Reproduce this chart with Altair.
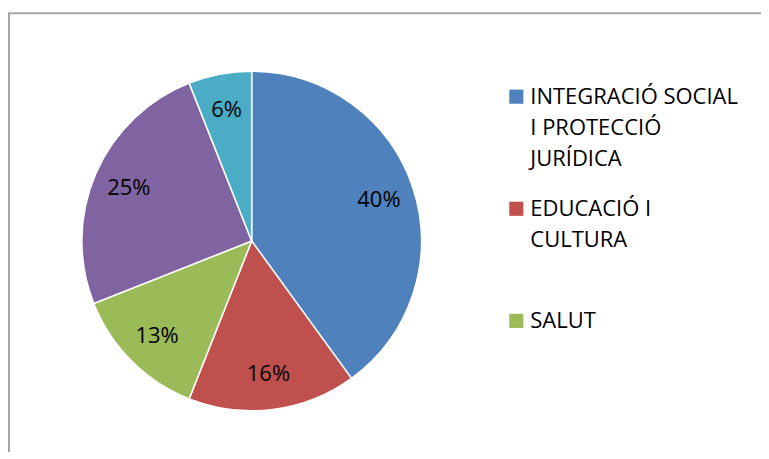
import altair as alt
import pandas as pd

categories = ["INTEGRACIÓ SOCIAL I PROTECCIÓ JURÍDICA", "EDUCACIÓ I CULTURA", "SALUT", "Cat 4", "Cat 5"]
values = [40, 16, 13, 25, 6]
colors = ["#4F81BD", "#C0504D", "#9BBB59", "#8064A2", "#4BACC6"]
legend_labels = ["INTEGRACIÓ SOCIAL|I PROTECCIÓ|JURÍDICA", "EDUCACIÓ I|CULTURA", "SALUT"]

FONT = "Open Sans"

pie_df = pd.DataFrame({
    "cat": categories,
    "value": values,
    "order": list(range(len(categories))),
    "label": [f"{v}%" for v in values],
})
leg_df = pd.DataFrame({
    "cat": categories[:3],
    "text": legend_labels,
    "rank": list(range(3)),
})

color_scale = alt.Scale(domain=categories, range=colors)
CX, CY = 240, 229

base = alt.Chart(pie_df).encode(
    theta=alt.Theta("value:Q", stack=True),
    order=alt.Order("order:Q"),
)
arcs = base.mark_arc(radius=170, stroke="white", strokeWidth=1.5).encode(
    color=alt.Color("cat:N", scale=color_scale, legend=None),
    x=alt.value(CX), y=alt.value(CY),
)
labels = base.mark_text(radius=134, font=FONT, fontSize=22, color="black").encode(
    text="label:N",
    x=alt.value(CX), y=alt.value(CY),
)

border = alt.Chart(pd.DataFrame({"a": [0]})).mark_rect(
    fill=None, stroke="#A6A6A6", strokeWidth=2
).encode(x=alt.value(-3), x2=alt.value(900), y=alt.value(1), y2=alt.value(900))

yscale = alt.Scale(domain=[0, 2], range=[84.5, 309])
leg_base = alt.Chart(leg_df)
leg_sq = leg_base.mark_square(size=200, opacity=1).encode(
    x=alt.value(505),
    y=alt.Y("rank:Q", scale=yscale, axis=None),
    color=alt.Color("cat:N", scale=color_scale, legend=None),
)
leg_txt = leg_base.transform_calculate(
    lines="split(datum.text, '|')"
).mark_text(
    align="left", baseline="alphabetic", font=FONT, fontSize=22,
    lineHeight=31, dy=7.5, color="black"
).encode(
    x=alt.value(519),
    y=alt.Y("rank:Q", scale=yscale, axis=None),
    text="lines:N",
)

chart = alt.layer(border, arcs, labels, leg_sq, leg_txt).properties(
    width=750, height=440,
    padding={"left": 4, "top": 4, "right": 0, "bottom": 0},
    autosize=alt.AutoSizeParams(type="none"),
).configure_view(stroke=None)

chart.save("out.html", embed_options={"renderer": "svg", "actions": False})
